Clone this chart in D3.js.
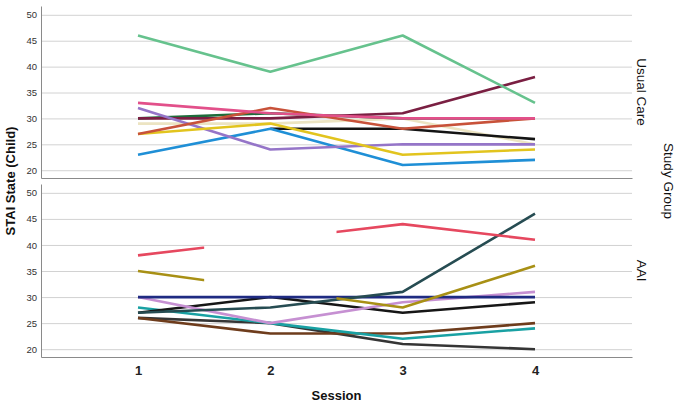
<!DOCTYPE html>
<html>
<head>
<meta charset="utf-8">
<script src="https://cdn.jsdelivr.net/npm/d3@7"></script>
<style>
  body { margin: 0; background: #fff; }
  text { font-family: "Liberation Sans", Arial, sans-serif; }
</style>
</head>
<body>
<script>
const sessions = [1, 2, 3, 4];
const yTicks = [20, 25, 30, 35, 40, 45, 50];
const groupNames = ['Usual Care', 'AAI'];

// Usual Care: one row per child, STAI state for sessions 1-4 (null = missing)
const usualCareValues = [
  [29, 29, 30, 25],
  [30, 31, 30, 30],
  [null, 28, 28, 26],
  [30, 30, 31, 38],
  [23, 28, 21, 22],
  [32, 24, 25, 25],
  [27, 29, 23, 24],
  [27, 32, 28, 30],
  [33, 31, 30, 30],
  [46, 39, 46, 33],
];

// AAI: one row per child
const aaiValues = [
  [26, 25, 21, 20],
  [26, 23, 23, 25],
  [28, 25, 22, 24],
  [27, 30, 27, 29],
  [30, 25, 29, 31],
  [30, 30, 30, 30],
  [27, 28, 31, 46],
  [35, 31.5, 28, 36],
  [38, 41, 44, 41],
];
// AAI rows whose line is broken around session 2
const aaiGapRows = [7, 8];
const gapRange = [1.5, 2.5];

const ucColors = ['#ece4c2', '#1d6b3a', '#141414', '#7a1f42', '#1f8fd6',
                  '#9575c8', '#e2c41e', '#c8523a', '#e2508a', '#66c28d'];
const aaiColors = ['#353535', '#6e3c1c', '#19a1a3', '#161616', '#c690d2',
                   '#1f2b82', '#264c52', '#a89015', '#e6485f'];

const width = 675, height = 404;
const plotLeft = 41, plotRight = 632;
const panels = [
  { top: 6, bottom: 178, values: usualCareValues, colors: ucColors, gaps: [] },
  { top: 184, bottom: 357, values: aaiValues, colors: aaiColors, gaps: aaiGapRows },
];

const svg = d3.select('body')
  .append('svg')
  .attr('width', width)
  .attr('height', height);

const x = d3.scaleLinear()
  .domain([0.267, 4.733])
  .range([plotLeft, plotRight]);

panels.forEach((p, pi) => {
  const y = d3.scaleLinear()
    .domain([18.5, 51.7])
    .range([p.bottom, p.top]);

  // grid lines
  svg.append('g')
    .attr('transform', `translate(${plotLeft}, 0)`)
    .call(d3.axisLeft(y).tickValues(yTicks).tickSize(-(plotRight - plotLeft)).tickFormat(''))
    .call(g => g.select('.domain').remove())
    .selectAll('line')
    .attr('stroke', '#d2d2d2')
    .attr('stroke-width', 1);

  // y axis
  const yAxis = svg.append('g')
    .attr('transform', `translate(${plotLeft}, 0)`)
    .call(d3.axisLeft(y).tickValues(yTicks).tickSize(0).tickSizeOuter(0).tickPadding(4));
  yAxis.select('.domain').attr('stroke', '#8a8a8a');
  yAxis.selectAll('text')
    .attr('font-size', '9.5px')
    .attr('fill', '#333');

  // x axis (labels only on the lower panel)
  const xAxis = svg.append('g')
    .attr('transform', `translate(0, ${p.bottom})`)
    .call(d3.axisBottom(x)
      .tickValues(pi === 1 ? sessions : [])
      .tickSize(0)
      .tickSizeOuter(0)
      .tickPadding(9)
      .tickFormat(d3.format('d')));
  xAxis.select('.domain').attr('stroke', '#8a8a8a').attr('stroke-width', 1.2);
  xAxis.selectAll('text')
    .attr('font-size', '13px')
    .attr('font-weight', 'bold')
    .attr('fill', '#222');

  // clip used for broken lines
  const clipId = `gap-clip-${pi}`;
  const clip = svg.append('clipPath').attr('id', clipId);
  clip.append('rect')
    .attr('x', plotLeft)
    .attr('y', p.top)
    .attr('width', x(gapRange[0]) - plotLeft)
    .attr('height', p.bottom - p.top);
  clip.append('rect')
    .attr('x', x(gapRange[1]))
    .attr('y', p.top)
    .attr('width', plotRight - x(gapRange[1]))
    .attr('height', p.bottom - p.top);

  const line = d3.line()
    .defined(v => v != null)
    .x((v, i) => x(sessions[i]))
    .y(v => y(v));

  svg.append('g')
    .selectAll('path')
    .data(p.values)
    .enter()
    .append('path')
    .attr('d', line)
    .attr('fill', 'none')
    .attr('stroke', (d, i) => p.colors[i])
    .attr('stroke-width', 2.6)
    .attr('stroke-linejoin', 'round')
    .attr('clip-path', (d, i) => p.gaps.includes(i) ? `url(#${clipId})` : null);

  // panel label on the right
  svg.append('text')
    .attr('transform', `translate(642, ${(p.top + p.bottom) / 2}) rotate(90)`)
    .attr('text-anchor', 'middle')
    .attr('dy', '0.35em')
    .attr('font-size', '13.5px')
    .attr('fill', '#111')
    .text(groupNames[pi]);
});

svg.append('text')
  .attr('transform', 'translate(669, 181) rotate(90)')
  .attr('text-anchor', 'middle')
  .attr('dy', '0.35em')
  .attr('font-size', '13.5px')
  .attr('fill', '#111')
  .text('Study Group');

svg.append('text')
  .attr('transform', 'translate(10, 181) rotate(-90)')
  .attr('text-anchor', 'middle')
  .attr('dy', '0.35em')
  .attr('font-size', '13px')
  .attr('font-weight', 'bold')
  .attr('fill', '#111')
  .text('STAI State (Child)');

svg.append('text')
  .attr('x', (plotLeft + plotRight) / 2)
  .attr('y', 400)
  .attr('text-anchor', 'middle')
  .attr('font-size', '13px')
  .attr('font-weight', 'bold')
  .attr('fill', '#111')
  .text('Session');
</script>
</body>
</html>
